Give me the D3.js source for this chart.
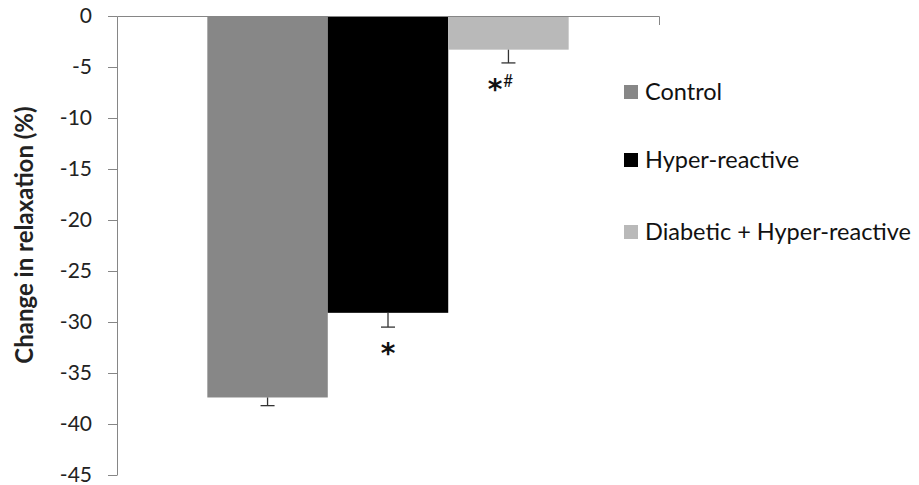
<!DOCTYPE html>
<html lang="en">
  <head>
    <meta charset="UTF-8" />
    <title>Change in relaxation</title>
    <script src="https://d3js.org/d3.v7.min.js"></script>
    <style>
      body { margin: 0; background: #fff; }
      svg { display: block; font-family: Lato, "Open Sans", sans-serif; }
    </style>
  </head>
  <body>
    <svg width="919" height="485"></svg>
    <script>
      const groups = ["Control", "Hyper-reactive", "Diabetic + Hyper-reactive"];
      const values = [-37.4, -29.1, -3.3];
      const errors = [0.8, 1.4, 1.3];
      const marks = ["", "*", "*#"];
      const colors = ["#878787", "#000000", "#b9b9b9"];
      const yTicks = [0, -5, -10, -15, -20, -25, -30, -35, -40, -45];

      const svg = d3.select("svg");
      const plotLeft = 117, plotRight = 659, plotTop = 16, plotBottom = 475;

      const y = d3.scaleLinear().domain([0, -45]).range([plotTop, plotBottom]);
      const x0 = d3.scaleBand().domain(["all"]).range([plotLeft, plotRight]).paddingInner(0).paddingOuter(0.25);
      const x = d3.scaleBand().domain(groups).range([x0("all"), x0("all") + x0.bandwidth()]);

      // y axis
      const yAxis = svg.append("g")
        .attr("transform", `translate(${plotLeft},0)`)
        .call(d3.axisLeft(y).tickValues(yTicks).tickFormat(d => String(d))
          .tickSize(9).tickPadding(16).tickSizeOuter(0));
      yAxis.select(".domain").attr("stroke", "#868686");
      yAxis.selectAll(".tick line").attr("stroke", "#868686");
      yAxis.selectAll(".tick text")
        .attr("font-size", 21).attr("fill", "#222")
        .attr("font-family", "Lato, sans-serif");

      svg.append("text")
        .attr("transform", `translate(25,235) rotate(-90)`)
        .attr("text-anchor", "middle").attr("dy", "0.35em")
        .attr("font-size", 24).attr("font-weight", "bold").attr("fill", "#222")
        .text("Change in relaxation (%)");

      // bars
      svg.selectAll(".bar").data(groups).enter().append("rect")
        .attr("x", d => x(d))
        .attr("width", x.bandwidth())
        .attr("y", y(0))
        .attr("height", (d, i) => y(values[i]) - y(0))
        .attr("fill", (d, i) => colors[i]);

      // x axis at zero
      const xAxis = svg.append("g")
        .attr("transform", `translate(0,${y(0)})`)
        .call(d3.axisBottom(x0).tickValues([]).tickSizeOuter(9));
      xAxis.select(".domain").attr("stroke", "#868686");

      // error bars (downward only)
      const eb = svg.selectAll(".err").data(groups).enter().append("g")
        .attr("stroke", "#333").attr("stroke-width", 1.3);
      eb.append("line")
        .attr("x1", d => x(d) + x.bandwidth() / 2)
        .attr("x2", d => x(d) + x.bandwidth() / 2)
        .attr("y1", (d, i) => y(values[i]))
        .attr("y2", (d, i) => y(values[i] - errors[i]));
      eb.append("line")
        .attr("x1", d => x(d) + x.bandwidth() / 2 - 7)
        .attr("x2", d => x(d) + x.bandwidth() / 2 + 7)
        .attr("y1", (d, i) => y(values[i] - errors[i]))
        .attr("y2", (d, i) => y(values[i] - errors[i]));

      // significance marks
      groups.forEach((g, i) => {
        if (!marks[i]) return;
        const cx = x(g) + x.bandwidth() / 2;
        const ty = y(values[i] - errors[i]) + 36;
        const t = svg.append("text")
          .attr("x", marks[i].length > 1 ? cx - 8 : cx)
          .attr("y", ty)
          .attr("text-anchor", "middle")
          .attr("font-size", 28).attr("font-weight", "bold").attr("fill", "#111")
          .attr("font-family", "DejaVu Sans, sans-serif");
        t.append("tspan").text("*");
        if (marks[i].length > 1) {
          t.append("tspan").attr("font-size", 17).attr("font-weight", "normal")
            .attr("font-family", "Lato, sans-serif")
            .attr("dx", 1).attr("dy", -12).text(marks[i].slice(1));
        }
      });

      // legend
      const legY = [92, 160, 232];
      const leg = svg.selectAll(".leg").data(groups).enter().append("g")
        .attr("transform", (d, i) => `translate(624,${legY[i]})`);
      leg.append("rect").attr("x", 0).attr("y", -7).attr("width", 14).attr("height", 14)
        .attr("fill", (d, i) => colors[i]);
      leg.append("text").attr("x", 21).attr("y", 0).attr("dy", "0.35em")
        .attr("font-size", 23.5).attr("fill", "#111")
        .text(d => d);
    </script>
  </body>
</html>
